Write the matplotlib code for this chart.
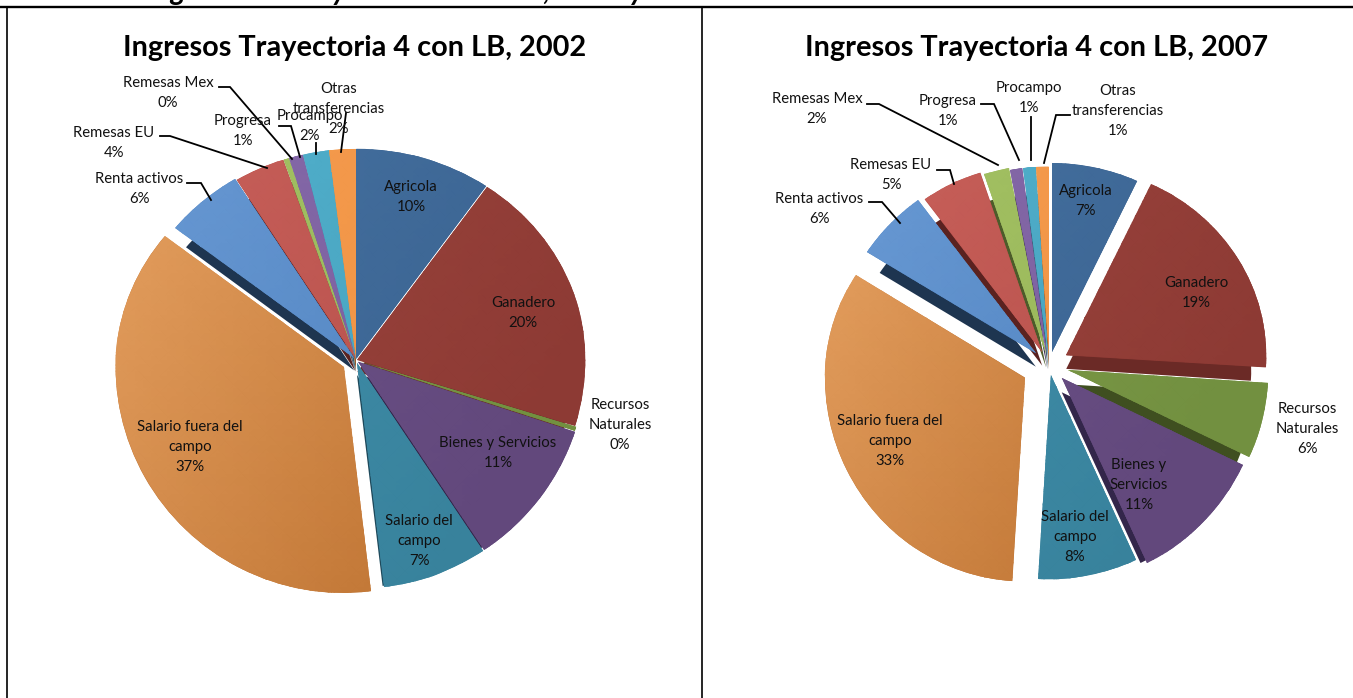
# -*- coding: utf-8 -*-
import numpy as np
import matplotlib
matplotlib.use('Agg')
import matplotlib.pyplot as plt
from matplotlib.colors import LinearSegmentedColormap

plt.rcParams['font.family'] = ['Lato', 'DejaVu Sans']

W, H = 1353, 698

# data (clockwise from 12 o'clock)
names_2002 = ['Agricola', 'Ganadero', 'Recursos\nNaturales', 'Bienes y Servicios',
              'Salario del\ncampo', 'Salario fuera del\ncampo', 'Renta activos',
              'Remesas EU', 'Remesas Mex', 'Progresa', 'Procampo', 'Otras\ntransferencias']
values_2002 = [9.6, 20, 0.3, 10.6, 7.4, 37.4, 5.6, 3.6, 0.4, 1, 1.8, 1.9]

names_2007 = ['Agricola', 'Ganadero', 'Recursos\nNaturales', 'Bienes y\nServicios',
              'Salario del\ncampo', 'Salario fuera del\ncampo', 'Renta activos',
              'Remesas EU', 'Remesas Mex', 'Progresa', 'Procampo', 'Otras\ntransferencias']
values_2007 = [7, 19, 6, 11, 8, 33, 6, 5, 2, 1, 1, 1]

title_2002 = 'Ingresos Trayectoria 4 con LB, 2002'
title_2007 = 'Ingresos Trayectoria 4 con LB, 2007'
cut_title = 'Ingresos de Trayectoria 4 con LB, 2002 y 2007'

# styles
light = ['#44709F', '#9B443D', '#7E9A48', '#6C5288', '#408FAB', '#E09A5A',
         '#6596D1', '#C65E58', '#A2C062', '#8468A8', '#50AFCB', '#F49B4F']
dark = ['#3A6290', '#8D3A34', '#729040', '#62487C', '#38829C', '#BF7433',
        '#4F82BE', '#B54F4A', '#97B558', '#7A5E9C', '#46A0BC', '#F09240']
wall = ['#24405F', '#6B2A26', '#3F4F20', '#33264A', '#1F4A5C', '#8A5020',
        '#1E3550', '#5A2220', '#4C5C2A', '#40305A', '#286070', '#8A5020']

explode_2002 = [0.006, 0.006, 0.01, 0.012, 0.012, 0.062, 0.012, 0.005, 0.005, 0.005, 0.005, 0.005]
explode_2007 = [0.07, 0.10, 0.10, 0.09, 0.05, 0.135, 0.09, 0.075, 0.06, 0.05, 0.05, 0.05]

# label centres and leader lines, in picture pixels
pos_2002 = [(411, 197), (523, 313), (620, 425), (498, 453), (419, 541), (190, 447),
            (139, 189), (114, 143), (168, 93), (243, 131), (310, 126), (339, 109)]
pos_2007 = [(1086, 201), (1196, 293), (1307, 429), (1139, 485), (1075, 537), (890, 441),
            (819, 209), (891, 175), (817, 109), (948, 111), (1029, 98), (1118, 111)]
leaders_2002 = [[(219, 87), (230, 87), (292, 159)], [(279, 126), (291, 126), (300, 157)],
                [(316, 143), (316, 154)], [(346, 113), (341, 152)],
                [(160, 136), (170, 136), (267, 168)], [(187, 183), (201, 183), (211, 200)]]
leaders_2007 = [[(867, 104), (879, 104), (998, 165)], [(981, 104), (994, 104), (1019, 160)],
                [(1031, 117), (1031, 160)], [(1070, 115), (1056, 115), (1044, 163)],
                [(937, 170), (950, 170), (954, 184)], [(869, 202), (882, 202), (900, 223)]]


def draw_pie(values, explode, box, cx, cy, rx, ry_up, ry_down, depth):
    x0, y0, x1, y1 = box
    ax = fig.add_axes([x0 / W, 1 - y1 / H, (x1 - x0) / W, (y1 - y0) / H])
    k = ry_down / ry_up
    # tilted pie: the near half looks taller than the far half
    ax.set_yscale('function', functions=(lambda y: np.where(y < 0, y * k, y),
                                         lambda y: np.where(y < 0, y / k, y)))
    walls, _ = ax.pie(values, explode=explode, colors=wall, radius=1 - depth - 0.005,
                      center=(0.0, -depth), startangle=90, counterclock=False,
                      normalize=True, wedgeprops={'linewidth': 0})
    # these two show no side wall in the picture
    walls[0].set_visible(False)
    walls[5].set_visible(False)
    faces, _ = ax.pie(values, explode=explode, colors=dark, radius=1.0, center=(0, 0),
                      startangle=90, counterclock=False, normalize=True,
                      wedgeprops={'linewidth': 0})
    gx, gy = np.meshgrid(np.linspace(-1.4, 1.4, 40), np.linspace(-1.4, 1.4, 40))
    shade = (gx - 0.6 * gy + 1.6) / 3.2
    for i, wedge in enumerate(faces):
        cmap = LinearSegmentedColormap.from_list('c', [light[i], dark[i]])
        mesh = ax.pcolormesh(gx, gy, shade, cmap=cmap, vmin=0.1, vmax=0.8,
                             shading='gouraud', zorder=wedge.get_zorder() + 0.1)
        mesh.set_clip_path(wedge)
    ax.set_aspect('auto')
    ax.set_xlim((x0 - cx) / rx, (x1 - cx) / rx)
    ax.set_ylim(-(y1 - cy) / ry_down, (cy - y0) / ry_up)
    ax.axis('off')
    return ax


fig = plt.figure(figsize=(W / 100, H / 100), dpi=100)

draw_pie(values_2002, explode_2002, (10, 130, 700, 690), 356, 360, 228, 210, 226, 0.055)
draw_pie(values_2007, explode_2007, (705, 130, 1350, 690), 1049, 365, 200, 189, 204, 0.07)

# overlay in pixels for the frame, titles and labels
over = fig.add_axes([0, 0, 1, 1], zorder=5)
over.set_xlim(0, W)
over.set_ylim(H, 0)
over.axis('off')

over.plot([0, W], [7, 7], color='black', lw=1.7)
over.plot([7, 7], [7, H], color='black', lw=1.2)
over.plot([702, 702], [7, H], color='black', lw=1.2)
# heading of the page above, only its descenders are left in the crop
over.text(147, 0, cut_title, fontsize=20.8, fontweight='bold', style='italic', va='baseline')

over.text(354.5, 48, title_2002, fontsize=20.8, fontweight='bold', ha='center', va='center')
over.text(1037, 48, title_2007, fontsize=20.8, fontweight='bold', ha='center', va='center')

for names, values, pos, leaders in [(names_2002, values_2002, pos_2002, leaders_2002),
                                    (names_2007, values_2007, pos_2007, leaders_2007)]:
    for name, val, (px, py) in zip(names, values, pos):
        over.text(px, py, f'{name}\n{round(val)}%', fontsize=10.7, ha='center', va='center',
                  linespacing=1.58, color='#111111')
    for line in leaders:
        xs, ys = zip(*line)
        over.plot(xs, ys, color='black', lw=1.3, solid_joinstyle='miter')

fig.savefig('out.png', dpi=100)
